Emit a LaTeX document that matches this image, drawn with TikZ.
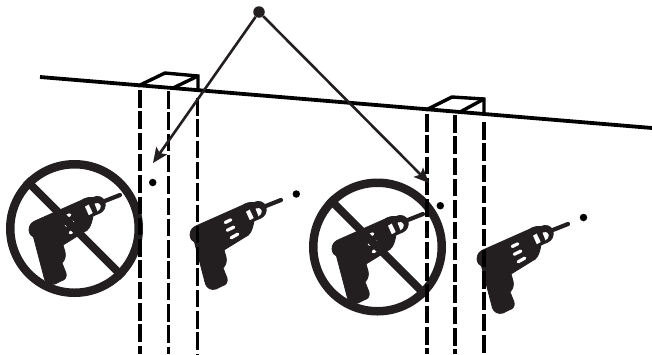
\documentclass[tikz,border=0pt]{standalone}
\usetikzlibrary{arrows.meta}
\definecolor{ink}{HTML}{231F20}
\tikzset{
  x=1pt,y=-1pt,
  beam/.style={draw=black,line width=3.8pt},
  boxline/.style={draw=black,line width=3.4pt,line join=miter},
  guide/.style={draw=black,line width=3.2pt,dash pattern=on 17.5pt off 3.8pt},
  pointer/.style={draw=ink,line width=2.6pt,-{Stealth[length=15pt,width=13pt,inset=3pt]}},
  spot/.style={circle,fill=black,inner sep=0pt,minimum size=7.5pt},
  hub/.style={circle,fill=ink,inner sep=0pt,minimum size=11.5pt},
  banring/.style={draw=ink,line width=8.5pt},
  banbar/.style={draw=ink,line width=8pt},
  drillbody/.style={fill=ink,draw=ink,line width=0.8pt,line join=round},
  drillslot/.style={draw=white,line width=3.2pt,line cap=round},
  drill/.pic={
    % bit
    \draw[ink,line width=4.2pt,line cap=round] (82,37.5) -- (101,30);
    % body
    \path[drillbody] (10,65)
      .. controls (10,60) and (13,57) .. (17,55.5)
      -- (62,35.5) .. controls (66,33) and (70,32) .. (74,32.5)
      .. controls (78,30.5) and (84,31) .. (86,37)
      .. controls (87,42) and (85,46) .. (81,48)
      -- (74,51) .. controls (73,56) and (72,60) .. (70,63)
      .. controls (69,65) and (67,66) .. (65,67)
      -- (44,80) -- (46,87) .. controls (47,91) and (46,95) .. (43,98)
      -- (47,108) .. controls (48,112) and (46,115) .. (42,116)
      -- (36,119) .. controls (31,120.5) and (27,118) .. (25.5,114)
      -- (14.5,72) .. controls (12,71) and (10.5,69) .. (10,65) -- cycle;
    % chuck slot
    \path[fill=white] (66,41.7) -- (69.7,39.6) -- (73.7,48) -- (69.8,50.2) -- cycle;
    % chuck window
    \path[fill=white] (75.5,38.6) .. controls (77.5,37.2) and (80.5,37.8) .. (81.8,41)
      .. controls (82,43.3) and (80.6,45) .. (78.5,46.3) -- cycle;
    % vents
    \draw[drillslot] (45.2,52.5) -- (50.8,49.8);
    \draw[drillslot] (47.2,60.3) -- (53.8,57.1);
    \draw[drillslot] (51.2,67.8) -- (57.8,64.1);
  }
}
\begin{document}
\begin{tikzpicture}
\useasboundingbox (0,0) rectangle (652,354);
% named points
\coordinate (beamL) at (40,77);
\coordinate (beamR) at (652,128);
\coordinate (a1) at (138,86); \coordinate (a2) at (165,73); \coordinate (a3) at (198,76);
\coordinate (a4) at (198,89); \coordinate (a5) at (173,88);
\coordinate (b1) at (426,110); \coordinate (b2) at (452,97); \coordinate (b3) at (484,99);
\coordinate (b4) at (484,113); \coordinate (b5) at (460,112);
\coordinate (tipA) at (153,163);
\coordinate (tipB) at (429,183);
% drills with their ban signs
\pic at (19,165) {drill};
\pic at (322,184) {drill};
\pic at (180,170) {drill};
\pic at (467,194) {drill};
\node[circle,banring,minimum size=128.5pt,inner sep=0pt] (ban1) at (74.5,228.5) {};
\node[circle,banring,minimum size=128.5pt,inner sep=0pt] (ban2) at (377.5,247) {};
\draw[banbar] (ban1.135) -- (ban1.-45);
\draw[banbar] (ban2.135) -- (ban2.-45);
% guides
\coordinate (g1t) at (140,90); \coordinate (g1b) at (140,354);
\coordinate (g2t) at (168.5,91); \coordinate (g2b) at (168.5,354);
\coordinate (g3t) at (197.5,98); \coordinate (g3b) at (197.5,354);
\coordinate (g4t) at (427,114); \coordinate (g4b) at (427,354);
\coordinate (g5t) at (455,115); \coordinate (g5b) at (455,354);
\coordinate (g6t) at (484,122); \coordinate (g6b) at (484,354);
\draw[guide] (g1t) -- (g1b);
\draw[guide] (g2t) -- (g2b);
\draw[guide] (g3t) -- (g3b);
\draw[guide] (g4t) -- (g4b);
\draw[guide] (g5t) -- (g5b);
\draw[guide] (g6t) -- (g6b);
% beam and boxes
\draw[boxline] (a1) -- (a2) -- (a3) -- (a4);
\draw[boxline] (a5) -- (a3);
\draw[boxline] (b1) -- (b2) -- (b3) -- (b4);
\draw[boxline] (b5) -- (b3);
\draw[beam] (beamL) -- (beamR);
% markers
\node[spot] (d1) at (152.7,182.5) {};
\node[spot] (d2) at (296.3,194) {};
\node[spot] (d3) at (440.3,205.7) {};
\node[spot] (d4) at (583.5,217.5) {};
\node[hub] (hub) at (259,12) {};
\draw[pointer] (hub) -- (tipA);
\draw[pointer] (hub) -- (tipB);
\end{tikzpicture}
\end{document}
